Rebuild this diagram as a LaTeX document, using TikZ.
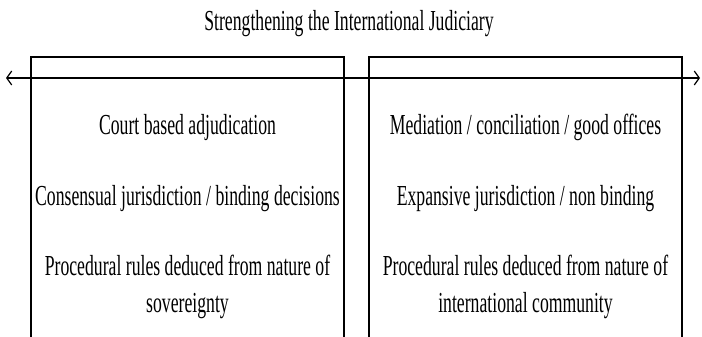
\documentclass[tikz,border=0pt]{standalone}
\usepackage{fontspec}
\usetikzlibrary{arrows.meta}
\newfontfamily\condserif[FakeStretch=0.61]{Liberation Serif}
\begin{document}
\begin{tikzpicture}[x=1pt,y=-1pt,
  boxline/.style={line width=1.9pt},
  label/.style={font=\condserif\fontsize{29}{37}\selectfont, inner sep=0pt, anchor=base, align=center},
  arrowline/.style={line width=1.3pt, {Straight Barb[length=5pt,width=14pt,line width=1.2pt]}-{Straight Barb[length=5pt,width=14pt,line width=1.2pt]}}]
\useasboundingbox (0,0) rectangle (702,337);
\fill[white] (0,0) rectangle (702,337);
% title
\node[label] (title) at (349,31) {Strengthening the International Judiciary};
% boxes (open at the bottom)
\coordinate (lbl) at (31,340);
\coordinate (ltl) at (31,57);
\coordinate (ltr) at (344,57);
\coordinate (lbr) at (344,340);
\coordinate (rbl) at (369,340);
\coordinate (rtl) at (369,57);
\coordinate (rtr) at (682,57);
\coordinate (rbr) at (682,340);
\draw[boxline] (lbl) -- (ltl) -- (ltr) -- (lbr);
\draw[boxline] (rbl) -- (rtl) -- (rtr) -- (rbr);
% double arrow
\coordinate (aL) at (6,78);
\coordinate (aR) at (700,78);
\draw[arrowline] (aL) -- (aR);
% left texts
\node[label] (l1) at (187.5,134) {Court based adjudication};
\node[label] (l2) at (187.5,205) {Consensual jurisdiction / binding decisions};
\node[label] (l3) at (187.5,275) {Procedural rules deduced from nature of};
\node[label] (l4) at (187.5,312) {sovereignty};
% right texts
\node[label] (r1) at (525.5,134) {Mediation / conciliation / good offices};
\node[label] (r2) at (525.5,205) {Expansive jurisdiction / non binding};
\node[label] (r3) at (525.5,275) {Procedural rules deduced from nature of};
\node[label] (r4) at (525.5,312) {international community};
\end{tikzpicture}
\end{document}
